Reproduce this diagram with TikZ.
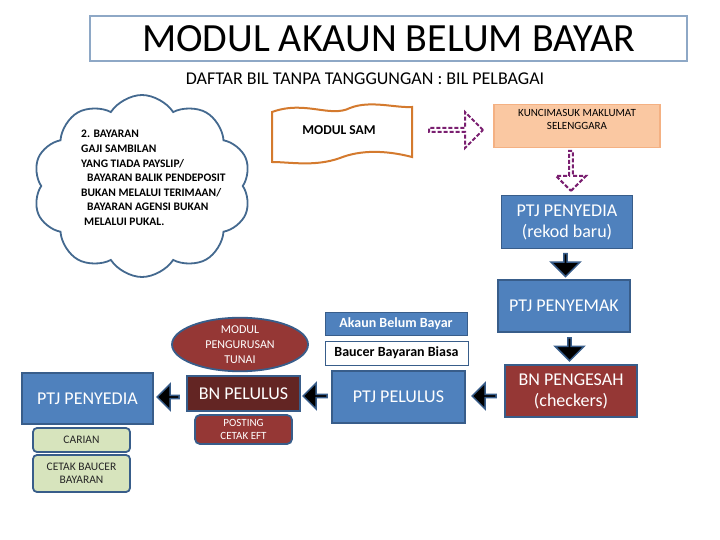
\documentclass[tikz,border=0pt]{standalone}
\usepackage{fontspec}
\setmainfont{Carlito}
\usetikzlibrary{shapes.symbols,shapes.arrows,shapes.geometric,calc}

\definecolor{bluefill}{HTML}{4F81BD}
\definecolor{blueedge}{HTML}{385D8A}
\definecolor{redfill}{HTML}{953735}
\definecolor{darkred}{HTML}{632523}
\definecolor{olivefill}{HTML}{D7E4BD}
\definecolor{peachfill}{HTML}{FAC8A2}
\definecolor{peachedge}{HTML}{F4B183}
\definecolor{orangeedge}{HTML}{D47A2E}
\definecolor{titleedge}{HTML}{8EA8C6}
\definecolor{cloudedge}{HTML}{44698F}
\definecolor{dashpurple}{HTML}{7A1F70}

\begin{document}
\begin{tikzpicture}[x=1pt,y=-1pt,
  bluebox/.style={draw=blueedge,fill=bluefill,line width=1.8pt,text=white,
    font=\fontsize{18}{21}\selectfont,align=center,inner sep=0pt},
  redbox/.style={draw=blueedge,fill=redfill,line width=1.8pt,text=white,
    font=\fontsize{18}{21}\selectfont,align=center,inner sep=0pt},
  smallred/.style={draw=blueedge,fill=redfill,line width=1.8pt,text=white,
    font=\fontsize{11}{13}\selectfont,align=center,inner sep=0pt},
  olivebox/.style={draw=blueedge,fill=olivefill,line width=1.8pt,rounded corners=4pt,
    text=black!85,font=\fontsize{11.5}{13.5}\selectfont,align=center,inner sep=0pt},
  blackarrow/.style={single arrow,draw=blueedge,fill=black,line width=1.5pt,inner sep=0pt},
  dasharrow/.style={single arrow,draw=dashpurple,dash pattern=on 4pt off 2pt,line width=2pt,inner sep=0pt}
]
\useasboundingbox (0,0) rectangle (720,540);
\fill[white] (0,0) rectangle (720,540);

% title
\node[draw=titleedge,line width=2pt,minimum width=597,minimum height=45,inner sep=0pt,
  font=\fontsize{40}{44}\selectfont] (title) at (388.5,38.5) {MODUL AKAUN BELUM BAYAR};
\node[font=\fontsize{18}{21}\selectfont,inner sep=0pt] (subtitle) at (365,79)
  {DAFTAR BIL TANPA TANGGUNGAN : BIL PELBAGAI};

% cloud
\node[cloud,cloud puffs=10,cloud puff arc=115,cloud ignores aspect,draw=cloudedge,
  line width=1.8pt,minimum width=218,minimum height=182,inner sep=0pt] (cloud) at (142,186) {};
\node[anchor=west,align=left,inner sep=0pt,font=\bfseries\fontsize{11.5}{14.6}\selectfont] (cloudtxt) at (81,178)
  {2. BAYARAN\\GAJI SAMBILAN\\YANG TIADA PAYSLIP/\\\hspace*{6pt}BAYARAN BALIK PENDEPOSIT\\BUKAN MELALUI TERIMAAN/\\\hspace*{6pt}BAYARAN AGENSI BUKAN\\\hspace*{3pt}MELALUI PUKAL.};

% modul sam wave
\draw[orangeedge,line width=2pt,fill=white]
  (272,112) .. controls (305,100) and (330,118) .. (350,108)
  .. controls (370,100) and (395,108) .. (412,107)
  -- (412,157)
  .. controls (385,150) and (360,150) .. (340,158)
  .. controls (315,167) and (290,162) .. (272,162) -- cycle;
\node[font=\bfseries\fontsize{13.5}{15}\selectfont,inner sep=0pt] (sam) at (339,130) {MODUL SAM};

% kuncimasuk
\node[draw=peachedge,fill=peachfill,line width=1.5pt,minimum width=166,minimum height=43,inner sep=0pt] (kunci) at (577,126) {};
\node[anchor=north,align=center,inner sep=0pt,font=\fontsize{11}{13}\selectfont] (kuncitxt) at ($(kunci.north)+(0,5)$)
  {KUNCIMASUK MAKLUMAT\\SELENGGARA};

% dashed arrows
\node[dasharrow,minimum height=54,minimum width=36,single arrow head extend=8] (darr1) at (455,130) {};
\node[dasharrow,shape border rotate=270,minimum height=40,minimum width=30,single arrow head extend=7.5] (darr2) at (571,170) {};

% right column
\node[bluebox,minimum width=131,minimum height=53] (penyediabaru) at (567,222) {PTJ PENYEDIA\\(rekod baru)};
\node[bluebox,minimum width=132,minimum height=52] (penyemak) at (564,306) {PTJ PENYEMAK};
\node[redbox,minimum width=132,minimum height=52] (pengesah) at (571,391) {BN PENGESAH\\(checkers)};

\node[blackarrow,shape border rotate=270,minimum height=23,minimum width=29,single arrow head extend=6]
  (a1) at ($(penyediabaru.south)!0.5!(penyemak.north)$) {};
\node[blackarrow,shape border rotate=270,minimum height=23,minimum width=29,single arrow head extend=6]
  (a2) at ($(penyemak.south)!0.5!(pengesah.north)+(2,0)$) {};

% middle
\node[draw=blueedge,fill=bluefill,line width=1pt,minimum width=142,minimum height=23,inner sep=0pt,
  text=white,font=\bfseries\fontsize{14}{16}\selectfont] (akaun) at (396,323.5) {Akaun Belum Bayar};
\node[draw=blueedge,fill=white,line width=1pt,minimum width=143,minimum height=24,inner sep=0pt,
  font=\bfseries\fontsize{14}{16}\selectfont] (baucer) at (396.5,353) {Baucer Bayaran Biasa};
\node[bluebox,minimum width=133,minimum height=52] (pelulus) at (398.5,397) {PTJ PELULUS};

\node[blackarrow,shape border rotate=180,minimum height=24,minimum width=26,single arrow head extend=5]
  (a3) at (485,396) {};

\node[redbox,fill=darkred,minimum width=113,minimum height=35] (bnpelulus) at (243.5,393.5) {BN PELULUS};
\node[ellipse,draw=blueedge,fill=redfill,line width=1.8pt,minimum width=136,minimum height=53,inner sep=0pt,
  text=white,align=center,font=\fontsize{12}{15}\selectfont] (modultunai) at (240,344.5)
  {MODUL\\PENGURUSAN\\TUNAI};
\node[smallred,rounded corners=5pt,minimum width=97,minimum height=29] (posting) at (243.5,429.5)
  {POSTING\\CETAK EFT};

\node[blackarrow,shape border rotate=180,minimum height=24,minimum width=26,single arrow head extend=5]
  (a4) at (316,396) {};
\node[blackarrow,shape border rotate=180,minimum height=22,minimum width=26,single arrow head extend=5]
  (a5) at (169,397) {};

% left
\node[bluebox,minimum width=131,minimum height=51] (penyedia) at (87.5,398.5) {PTJ PENYEDIA};
\node[olivebox,minimum width=97,minimum height=24] (carian) at (81.5,440) {CARIAN};
\node[olivebox,minimum width=97,minimum height=37] (cetak) at (81.5,473.5) {CETAK BAUCER\\BAYARAN};
\end{tikzpicture}
\end{document}
